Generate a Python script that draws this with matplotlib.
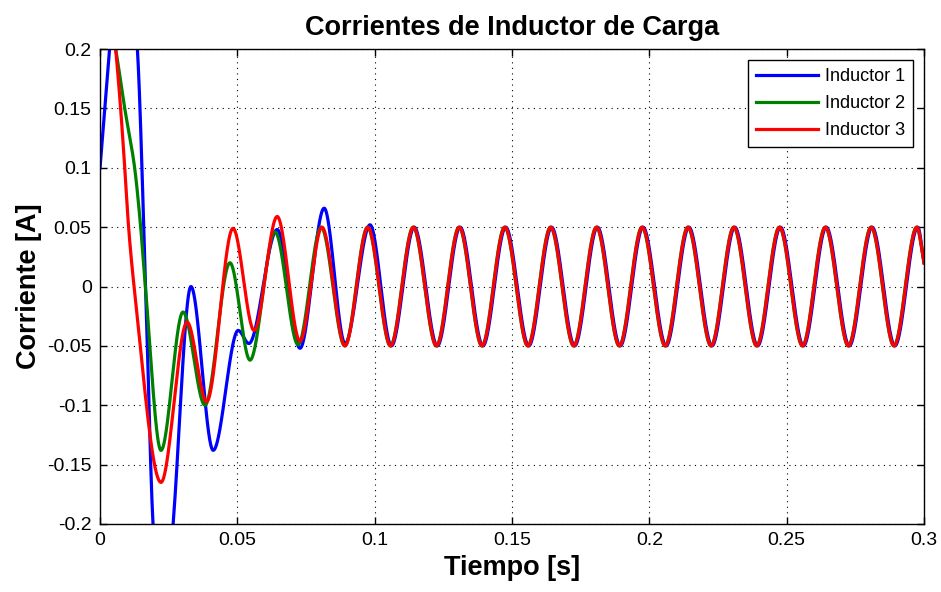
import numpy as np
import matplotlib
matplotlib.use("Agg")
import matplotlib.pyplot as plt

# knots: (time s, current A)
blue_t = [0.0, 0.0035, 0.0085, 0.0136, 0.0166, 0.0193, 0.0230, 0.0266, 0.0331,
          0.0412, 0.0503, 0.0542, 0.0645, 0.0728, 0.0816, 0.0892, 0.0983]
blue_v = [0.10, 0.20, 0.33, 0.20, 0.0, -0.20, -0.30, -0.20, 0.0,
          -0.138, -0.037, -0.048, 0.048, -0.052, 0.066, -0.048, 0.052]

green_t = [0.0, 0.0057, 0.0090, 0.0126, 0.0148, 0.0165, 0.0222, 0.0302, 0.0382,
           0.0473, 0.0546, 0.0637, 0.0721, 0.0805]
green_v = [0.27, 0.20, 0.15, 0.10, 0.05, 0.0, -0.138, -0.0215, -0.100,
           0.020, -0.062, 0.046, -0.049, 0.050]

red_t = [0.0, 0.0057, 0.0075, 0.0090, 0.0104, 0.0124, 0.0222, 0.0317, 0.0388,
         0.0484, 0.0561, 0.0645, 0.0728, 0.0808]
red_v = [0.33, 0.20, 0.15, 0.10, 0.05, 0.0, -0.165, -0.030, -0.097,
         0.049, -0.037, 0.059, -0.046, 0.050]

# steady state extrema (all three overlap)
steady_peaks = [0.0975, 0.1141, 0.1308, 0.1474, 0.1641, 0.1808, 0.1974,
                0.2141, 0.2308, 0.2474, 0.2641, 0.2808, 0.2974]
steady_troughs = [0.0892, 0.1058, 0.1225, 0.1391, 0.1558, 0.1725, 0.1891,
                  0.2058, 0.2225, 0.2391, 0.2558, 0.2725, 0.2891]
steady_amp = 0.05
end_t, end_v = 0.30, 0.02

labels = ["Inductor 1", "Inductor 2", "Inductor 3"]
colors = ["#0000ff", "#008000", "#ff0000"]
lags = [0.0003, -0.0001, 0.0]

xticks = [0, 0.05, 0.1, 0.15, 0.2, 0.25, 0.3]
xticklabels = ["0", "0.05", "0.1", "0.15", "0.2", "0.25", "0.3"]
yticks = [-0.2, -0.15, -0.1, -0.05, 0, 0.05, 0.1, 0.15, 0.2]
yticklabels = ["-0.2", "-0.15", "-0.1", "-0.05", "0", "0.05", "0.1", "0.15", "0.2"]


def pchip(xk, yk, x):
    xk = np.asarray(xk, float); yk = np.asarray(yk, float)
    h = np.diff(xk); d = np.diff(yk) / h
    m = np.zeros_like(yk)
    for k in range(1, len(xk) - 1):
        if d[k - 1] * d[k] > 0:
            w1 = 2 * h[k] + h[k - 1]
            w2 = h[k] + 2 * h[k - 1]
            m[k] = (w1 + w2) / (w1 / d[k - 1] + w2 / d[k])
    m[0] = d[0]; m[-1] = d[-1]
    i = np.clip(np.searchsorted(xk, x) - 1, 0, len(h) - 1)
    s = (x - xk[i]) / h[i]
    h00 = 2 * s**3 - 3 * s**2 + 1
    h10 = s**3 - 2 * s**2 + s
    h01 = -2 * s**3 + 3 * s**2
    h11 = s**3 - s**2
    return h00 * yk[i] + h10 * h[i] * m[i] + h01 * yk[i + 1] + h11 * h[i] * m[i + 1]


def build(tk, vk, lag):
    st = [(t + lag, steady_amp) for t in steady_peaks] + \
         [(t + lag, -steady_amp) for t in steady_troughs]
    st = sorted(p for p in st if p[0] > tk[-1] + 0.002)
    ts = list(tk) + [p[0] for p in st] + [end_t]
    vs = list(vk) + [p[1] for p in st] + [end_v]
    return ts, vs


plt.rcParams['font.family'] = ['Liberation Sans', 'DejaVu Sans']

fig = plt.figure(figsize=(9.41, 5.92), dpi=100)
ax = fig.add_axes([0.1063, 0.115, 0.8757, 0.802])

tt = np.linspace(0, 0.3, 6001)
for (tk, vk), lab, col, lag in zip([(blue_t, blue_v), (green_t, green_v), (red_t, red_v)],
                                   labels, colors, lags):
    ts, vs = build(tk, vk, lag)
    ax.plot(tt, pchip(ts, vs, tt), color=col, lw=2.3, label=lab)

ax.set_xlim(0, 0.3)
ax.set_ylim(-0.2, 0.2)
ax.set_xticks(xticks)
ax.set_xticklabels(xticklabels)
ax.set_yticks(yticks)
ax.set_yticklabels(yticklabels)
ax.tick_params(direction="in", length=5, width=1, top=True, right=True,
               labelsize=14, pad=6)
ax.grid(True, color="black", linestyle=(0, (1, 4)), linewidth=0.8)
for sp in ax.spines.values():
    sp.set_linewidth(1.0)

ax.set_title("Corrientes de Inductor de Carga", fontsize=19.5, fontweight="bold", pad=10)
ax.set_xlabel("Tiempo [s]", fontsize=19.5, fontweight="bold", labelpad=4)
ax.set_ylabel("Corriente [A]", fontsize=19.5, fontweight="bold", labelpad=4)

leg = ax.legend(loc="upper right", handlelength=3.4, fancybox=False,
                framealpha=1, edgecolor="black", borderpad=0.45, labelspacing=0.55,
                handletextpad=0.4, borderaxespad=0.6,
                prop={'family': ['Liberation Sans', 'DejaVu Sans'], 'size': 13})
leg.get_frame().set_linewidth(1.0)

fig.savefig("out.png", dpi=100)
